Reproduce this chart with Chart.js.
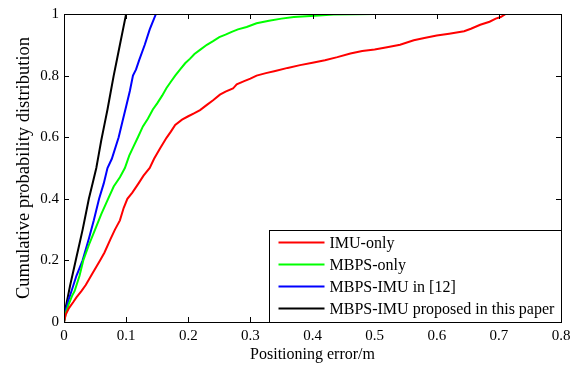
<!DOCTYPE html>
<html>
<head>
<meta charset="utf-8">
<script src="https://cdn.jsdelivr.net/npm/chart.js@4.4.0/dist/chart.umd.min.js"></script>
<style>
  html, body { margin: 0; padding: 0; background: #fff; }
  #wrap { width: 583px; height: 367px; }
</style>
</head>
<body>
<div id="wrap"><canvas id="cdfChart" width="583" height="367"></canvas></div>
<script>
const seriesLabels = ["IMU-only", "MBPS-only", "MBPS-IMU in [12]", "MBPS-IMU proposed in this paper"];
const seriesColors = ["#ff0000", "#00ff00", "#0000ff", "#000000"];

const xTicks = [0, 0.1, 0.2, 0.3, 0.4, 0.5, 0.6, 0.7, 0.8];
const yTicks = [0, 0.2, 0.4, 0.6, 0.8, 1];

// IMU-only
const imuX = [0, 0.003, 0.008, 0.015, 0.02, 0.028, 0.035, 0.045, 0.058, 0.065, 0.075, 0.082, 0.09, 0.096, 0.102, 0.11, 0.12, 0.128, 0.138, 0.145, 0.155, 0.165, 0.172, 0.179, 0.19, 0.2, 0.21, 0.219, 0.23, 0.24, 0.251, 0.26, 0.272, 0.278, 0.29, 0.3, 0.31, 0.325, 0.34, 0.36, 0.38, 0.4, 0.42, 0.44, 0.461, 0.48, 0.5, 0.52, 0.541, 0.563, 0.58, 0.6, 0.62, 0.644, 0.655, 0.67, 0.685, 0.695, 0.703, 0.711, 0.731];
const imuY = [0, 0.025, 0.045, 0.065, 0.08, 0.1, 0.12, 0.155, 0.2, 0.225, 0.27, 0.3, 0.33, 0.37, 0.4, 0.42, 0.45, 0.475, 0.5, 0.53, 0.565, 0.598, 0.618, 0.64, 0.657, 0.668, 0.678, 0.688, 0.705, 0.72, 0.738, 0.748, 0.758, 0.772, 0.782, 0.79, 0.8, 0.808, 0.815, 0.825, 0.834, 0.842, 0.85, 0.86, 0.872, 0.88, 0.885, 0.892, 0.9, 0.915, 0.922, 0.93, 0.936, 0.944, 0.952, 0.965, 0.975, 0.985, 0.99, 1, 1];

// MBPS-only
const mbpsX = [0, 0.003, 0.008, 0.013, 0.017, 0.025, 0.031, 0.04, 0.05, 0.06, 0.071, 0.08, 0.09, 0.098, 0.105, 0.112, 0.119, 0.127, 0.135, 0.143, 0.15, 0.158, 0.165, 0.172, 0.179, 0.187, 0.195, 0.203, 0.21, 0.22, 0.23, 0.24, 0.25, 0.26, 0.27, 0.28, 0.294, 0.31, 0.33, 0.35, 0.37, 0.39, 0.41, 0.434, 0.47, 0.5];
const mbpsY = [0, 0.03, 0.06, 0.085, 0.1, 0.15, 0.2, 0.25, 0.3, 0.35, 0.4, 0.44, 0.47, 0.5, 0.54, 0.57, 0.6, 0.635, 0.66, 0.69, 0.71, 0.735, 0.76, 0.78, 0.8, 0.82, 0.84, 0.855, 0.87, 0.885, 0.9, 0.912, 0.925, 0.933, 0.942, 0.95, 0.958, 0.97, 0.978, 0.985, 0.99, 0.993, 0.995, 0.998, 0.999, 1];

// MBPS-IMU in [12]
const refX = [0, 0.003, 0.007, 0.012, 0.02, 0.03, 0.04, 0.048, 0.0565, 0.064, 0.07, 0.077, 0.088, 0.094, 0.1, 0.106, 0.111, 0.116, 0.121, 0.13, 0.138, 0.143, 0.148];
const refY = [0, 0.04, 0.07, 0.1, 0.15, 0.2, 0.27, 0.33, 0.4, 0.45, 0.5, 0.53, 0.6, 0.65, 0.7, 0.75, 0.8, 0.82, 0.85, 0.9, 0.95, 0.975, 1];

// MBPS-IMU proposed
const propX = [0, 0.002, 0.006, 0.01, 0.015, 0.02, 0.025, 0.03, 0.035, 0.04, 0.046, 0.052, 0.056, 0.06, 0.065, 0.07, 0.075, 0.08, 0.085, 0.09, 0.095, 0.1];
const propY = [0, 0.04, 0.08, 0.12, 0.165, 0.21, 0.255, 0.3, 0.35, 0.4, 0.45, 0.5, 0.545, 0.59, 0.64, 0.69, 0.745, 0.8, 0.85, 0.9, 0.95, 1];

const toPoints = (xs, ys) => xs.map((x, i) => ({ x: x, y: ys[i] }));
const seriesData = [toPoints(imuX, imuY), toPoints(mbpsX, mbpsY), toPoints(refX, refY), toPoints(propX, propY)];

const fontFamily = '"Liberation Serif", "Times New Roman", serif';
Chart.defaults.color = "#000";
Chart.defaults.font.family = fontFamily;
Chart.defaults.font.size = 15;

// MATLAB style frame with inward ticks
const framePlugin = {
    id: 'frame',
    afterDatasetsDraw(chart) {
        const { ctx, chartArea } = chart;
        const { left, right, top, bottom } = chartArea;
        const xs = chart.scales.x, ys = chart.scales.y;
        ctx.save();
        ctx.strokeStyle = "#000";
        ctx.lineWidth = 1;
        ctx.beginPath();
        xTicks.forEach(v => {
            const px = Math.round(xs.getPixelForValue(v)) + 0.5;
            ctx.moveTo(px, bottom); ctx.lineTo(px, bottom - 5);
            ctx.moveTo(px, top); ctx.lineTo(px, top + 5);
        });
        yTicks.forEach(v => {
            const py = Math.round(ys.getPixelForValue(v)) + 0.5;
            ctx.moveTo(left, py); ctx.lineTo(left + 5, py);
            ctx.moveTo(right, py); ctx.lineTo(right - 5, py);
        });
        ctx.stroke();
        ctx.strokeRect(Math.round(left) + 0.5, Math.round(top) + 0.5, Math.round(right - left), Math.round(bottom - top));
        ctx.restore();
    }
};

// legend box in lower right corner
const legendBoxPlugin = {
    id: 'legendBox',
    afterDraw(chart) {
        const { ctx, chartArea } = chart;
        const boxW = 292, boxH = 92;
        const bx = Math.round(chartArea.right - boxW) + 0.5;
        const by = Math.round(chartArea.bottom - boxH) + 0.5;
        ctx.save();
        ctx.fillStyle = "#fff";
        ctx.fillRect(bx, by, boxW, boxH);
        ctx.strokeStyle = "#000";
        ctx.lineWidth = 1;
        ctx.strokeRect(bx, by, boxW, boxH);
        ctx.font = '16px ' + fontFamily;
        ctx.textBaseline = 'middle';
        ctx.fillStyle = "#000";
        chart.data.datasets.forEach((ds, i) => {
            const y = by + 12 + i * 22;
            ctx.strokeStyle = ds.borderColor;
            ctx.lineWidth = 2;
            ctx.beginPath();
            ctx.moveTo(bx + 9, y);
            ctx.lineTo(bx + 55, y);
            ctx.stroke();
            ctx.fillText(ds.label, bx + 60, y + 1);
        });
        ctx.restore();
    }
};

new Chart(document.getElementById("cdfChart"), {
    type: "line",
    data: {
        datasets: seriesLabels.map((label, i) => ({
            label: label,
            data: seriesData[i],
            borderColor: seriesColors[i],
            backgroundColor: seriesColors[i],
            borderWidth: 2,
            pointRadius: 0,
            tension: 0,
            fill: false
        }))
    },
    options: {
        responsive: false,
        animation: false,
        layout: { padding: { top: 12, right: 22, left: 0, bottom: 0 } },
        scales: {
            x: {
                type: "linear",
                min: 0,
                max: 0.8,
                afterFit: s => { s.height = 45; },
                afterBuildTicks: s => { s.ticks = xTicks.map(v => ({ value: v })); },
                grid: { display: false, drawTicks: false },
                border: { display: false },
                ticks: {
                    padding: 5,
                    maxRotation: 0,
                    callback: v => String(+v.toFixed(1))
                },
                title: {
                    display: true,
                    text: "Positioning error/m",
                    font: { size: 16 },
                    padding: { top: 0, bottom: 3 }
                }
            },
            y: {
                type: "linear",
                min: 0,
                max: 1,
                afterFit: s => { s.width = 64; },
                afterBuildTicks: s => { s.ticks = yTicks.map(v => ({ value: v })); },
                grid: { display: false, drawTicks: false },
                border: { display: false },
                ticks: {
                    padding: 5,
                    callback: v => String(+v.toFixed(1))
                },
                title: {
                    display: true,
                    text: "Cumulative probability distribution",
                    font: { size: 18.5 },
                    padding: { top: 13, bottom: 0 }
                }
            }
        },
        plugins: {
            legend: { display: false },
            tooltip: { enabled: false }
        }
    },
    plugins: [framePlugin, legendBoxPlugin]
});
</script>
</body>
</html>
